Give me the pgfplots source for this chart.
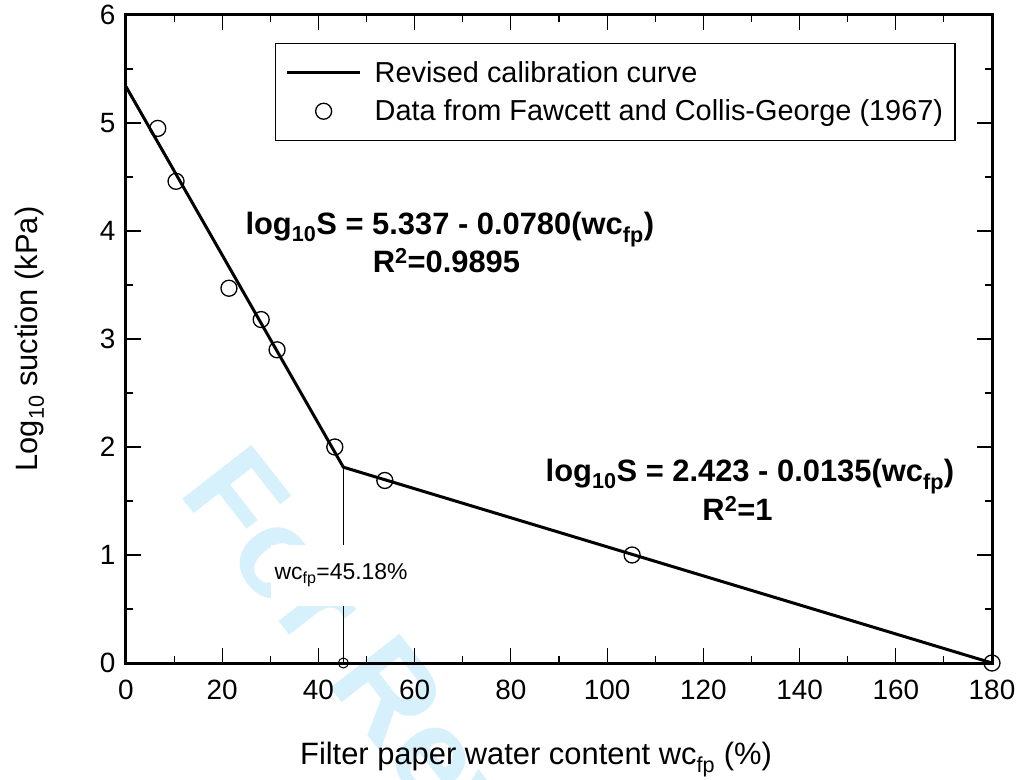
\documentclass[border=0pt]{standalone}
\usepackage{fontspec}
\setmainfont{Liberation Sans}
\usepackage{pgfplots}
\pgfplotsset{compat=1.18}
\definecolor{wmark}{RGB}{214,240,252}
\pgfdeclarelayer{background}
\pgfsetlayers{background,main}

\pgfplotsset{
    long line legend/.style={legend image code/.code={\draw[##1] (0bp,0bp) -- (73bp,0bp);}},
    one mark legend/.style={legend image code/.code={\draw[##1] plot coordinates {(36.5bp,0bp)};}},
}

\begin{document}
\begin{tikzpicture}
\begin{axis}[
    name=ax,
    scale only axis,
    width=866bp, height=648bp,
    xmin=0, xmax=180,
    ymin=0, ymax=6,
    xtick={0,20,...,180},
    ytick={0,1,...,6},
    minor x tick num=1,
    minor y tick num=1,
    tick align=inside,
    major tick length=15bp,
    minor tick length=7bp,
    tick style={black, line width=1.2bp},
    axis line style={line width=3bp},
    /pgf/number format/assume math mode=true,
    ticklabel style={font=\fontsize{28}{32}\selectfont},
    xticklabel style={yshift=-13bp},
    yticklabel style={xshift=-7bp},
    label style={font=\fontsize{31}{36}\selectfont},
    xlabel={Filter paper water content wc\textsubscript{fp} (\%)},
    ylabel={Log\textsubscript{10} suction (kPa)},
    xlabel style={at={(axis description cs:0.4734,-0.1574)}, anchor=base},
    ylabel style={at={(axis description cs:-0.1114,0.5)}, anchor=center},
    clip=false,
    legend style={
        at={(axis cs:30.97,5.741)}, anchor=north west,
        draw=black, line width=1.3bp,
        font=\fontsize{29}{33}\selectfont,
        inner xsep=10bp, inner ysep=16bp,
        row sep=12bp,
        cells={anchor=west},
        /tikz/every odd column/.append style={column sep=11bp},
    },
]

% calibration curve (two linear segments meeting at wc_fp = 45.18 %)
\addplot[black, line width=3bp, long line legend]
    coordinates {
    (0,5.337)
    (45.18,1.813)
    (180,0)
    };
\addlegendentry{Revised calibration curve}

\addplot[black, only marks, mark=o, mark size=8bp,
    mark options={line width=1.3bp}, one mark legend]
    coordinates {
    (6.6,4.95)
    (10.4,4.46)
    (21.4,3.47)
    (28.1,3.18)
    (31.4,2.90)
    (43.4,2.00)
    (53.8,1.69)
    (105.2,1.00)
    (180,0)
    };
\addlegendentry{Data from Fawcett and Collis-George (1967)}

% break point marker
\addplot[black, line width=0.8bp, forget plot]
    coordinates {(45.18,0) (45.18,1.813)};
\addplot[black, only marks, mark=o, mark size=5bp, forget plot,
    mark options={line width=1bp}]
    coordinates {(45.18,0)};

\node[fill=white, inner xsep=4bp, inner ysep=19bp,
      font=\fontsize{23}{26}\selectfont]
    at (axis cs:44.7,0.81) {wc\textsubscript{fp}=45.18\%};

\node[anchor=base, font=\bfseries\fontsize{31}{36}\selectfont]
    at (axis cs:67.3,3.963) {log\textsubscript{10}S = 5.337 - 0.0780(wc\textsubscript{fp})};
\node[anchor=base, font=\bfseries\fontsize{31}{36}\selectfont]
    at (axis cs:66.6,3.62) {R\textsuperscript{2}=0.9895};
\node[anchor=base, font=\bfseries\fontsize{31}{36}\selectfont]
    at (axis cs:129.7,1.676) {log\textsubscript{10}S = 2.423 - 0.0135(wc\textsubscript{fp})};
\node[anchor=base, font=\bfseries\fontsize{31}{36}\selectfont]
    at (axis cs:127.1,1.324) {R\textsuperscript{2}=1};

\end{axis}

\begin{pgfonlayer}{background}
\node[overlay, rotate=-52, anchor=base west, text=wmark, inner sep=0pt,
      font=\bfseries\fontsize{128}{130}\selectfont]
    at ([shift={(51bp,171bp)}]ax.south west) {For Review Only};
\end{pgfonlayer}

\pgfresetboundingbox
\path[use as bounding box] ([shift={(-126bp,-117bp)}]ax.south west)
    rectangle ([shift={(24bp,15bp)}]ax.north east);
\end{tikzpicture}
\end{document}
